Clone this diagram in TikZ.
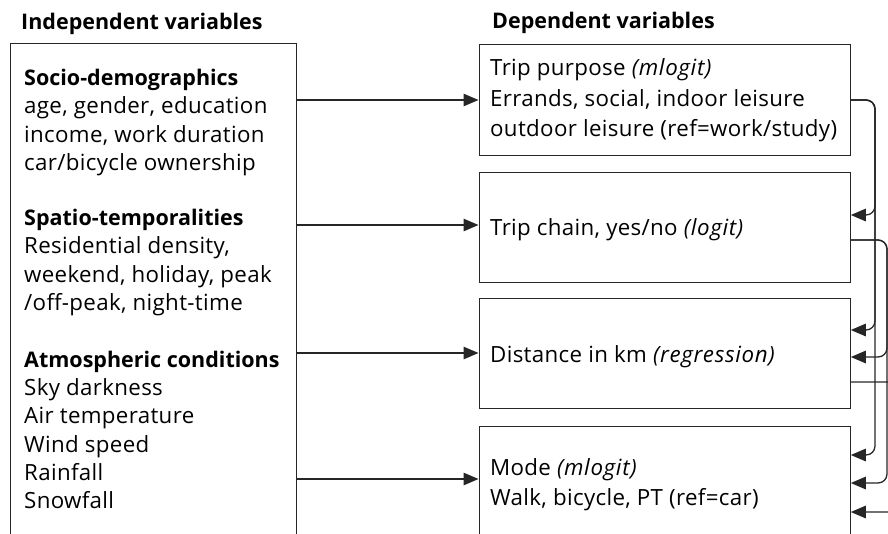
\documentclass[tikz,border=0pt]{standalone}
\usepackage{fontspec}
\setmainfont{Open Sans}
\newfontfamily\regfont{Open Sans}[LetterSpace=1.5,ItalicFeatures={LetterSpace=3}]
\usetikzlibrary{arrows.meta}
\begin{document}
\begin{tikzpicture}[x=1pt,y=-1pt,
  box/.style={draw=black!85,line width=1.3pt,inner sep=0,anchor=north west,minimum width=371pt},
  txt/.style={anchor=base west,inner sep=0,font=\regfont\fontsize{22.3}{28}\selectfont},
  hd/.style={anchor=base west,inner sep=0,font=\fontsize{21.5}{28}\selectfont\bfseries},
  conn/.style={draw=black!85,line width=1.3pt,-{Triangle[length=15pt,width=12.5pt]}},
  link/.style={conn,rounded corners=9pt}]
\useasboundingbox (0,0) rectangle (888,533);
\clip (0,0) rectangle (888,533);
% titles
\node[hd] (ti) at (21,29) {Independent variables};
\node[hd] (td) at (492,28) {Dependent variables};
% boxes
\node[box,minimum width=286pt,minimum height=540pt] (L) at (9.5,43) {};
\node[box,minimum height=111pt] (B1) at (478.5,43.5) {};
\node[box,minimum height=110pt] (B2) at (478.5,172) {};
\node[box,minimum height=110pt] (B3) at (478.5,298) {};
\node[box,minimum height=150pt] (B4) at (478.5,426) {};
% left texts
\node[hd]  (s1) at (24,85)  {Socio-demographics};
\node[txt] (s2) at (24,113) {age, gender, education};
\node[txt] (s3) at (24,142) {income, work duration};
\node[txt] (s4) at (24,170) {car/bicycle ownership};
\node[hd]  (p1) at (24,225) {Spatio-temporalities};
\node[txt] (p2) at (24,253) {Residential density,};
\node[txt] (p3) at (24,282) {weekend, holiday, peak};
\node[txt] (p4) at (24,310) {/off-peak, night-time};
\node[hd]  (a1) at (24,367) {Atmospheric conditions};
\node[txt] (a2) at (24,395) {Sky darkness};
\node[txt] (a3) at (24,423) {Air temperature};
\node[txt] (a4) at (24,452) {Wind speed};
\node[txt] (a5) at (24,480) {Rainfall};
\node[txt] (a6) at (24,508) {Snowfall};
% right texts
\node[txt] (r1) at (490,75)  {Trip purpose \textit{(mlogit)}};
\node[txt] (r2) at (490,106) {Errands, social, indoor leisure};
\node[txt] (r3) at (490,136) {outdoor leisure (ref=work/study)};
\node[txt] (r4) at (490,235) {Trip chain, yes/no \textit{(logit)}};
\node[txt] (r5) at (490,362) {Distance in km \textit{(regression)}};
\node[txt] (r6) at (490,475) {Mode \textit{(mlogit)}};
\node[txt] (r7) at (490,505) {Walk, bicycle, PT (ref=car)};
% left-to-right arrows
\draw[conn] (L.east |- 0,100) -- (B1.west |- 0,100);
\draw[conn] (L.east |- 0,225) -- (B2.west |- 0,225);
\draw[conn] (L.east |- 0,353) -- (B3.west |- 0,353);
\draw[conn] (L.east |- 0,479) -- (B4.west |- 0,479);
% right-side links
\draw[link] (B1.east |- 0,100) -- (875,100) -- (875,215) -- (B2.east |- 0,215);
\draw[link] (B1.east |- 0,100) -- (875,100) -- (875,330) -- (B3.east |- 0,330);
\draw[link] (B1.east |- 0,100) -- (875,100) -- (875,455) -- (B4.east |- 0,455);
\draw[link] (B2.east |- 0,240) -- (887,240) -- (887,357) -- (B3.east |- 0,357);
\draw[link] (B2.east |- 0,240) -- (887,240) -- (887,483) -- (B4.east |- 0,483);
\draw[link] (B3.east |- 0,382) -- (905,382) -- (905,512) -- (B4.east |- 0,512);
\end{tikzpicture}
\end{document}
